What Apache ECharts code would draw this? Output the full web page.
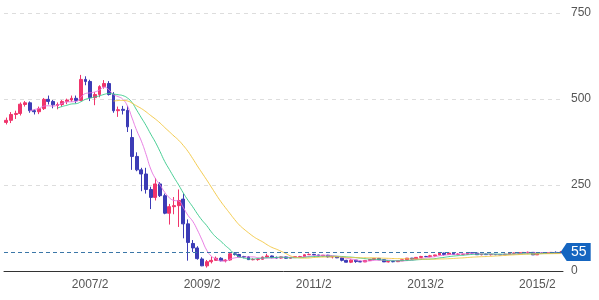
<!DOCTYPE html>
<html><head><meta charset="utf-8">
<script src="https://cdn.jsdelivr.net/npm/echarts@6/dist/echarts.min.js"></script>
<style>html,body{margin:0;padding:0;background:#fff}#c{width:599px;height:300px}</style>
</head><body><div id="c"></div>
<script>
const categories = [
'2005/8','2005/9','2005/10','2005/11','2005/12',
'2006/1','2006/2','2006/3','2006/4','2006/5','2006/6','2006/7','2006/8','2006/9','2006/10','2006/11','2006/12',
'2007/1','2007/2','2007/3','2007/4','2007/5','2007/6','2007/7','2007/8','2007/9','2007/10','2007/11','2007/12',
'2008/1','2008/2','2008/3','2008/4','2008/5','2008/6','2008/7','2008/8','2008/9','2008/10','2008/11','2008/12',
'2009/1','2009/2','2009/3','2009/4','2009/5','2009/6','2009/7','2009/8','2009/9','2009/10','2009/11','2009/12',
'2010/1','2010/2','2010/3','2010/4','2010/5','2010/6','2010/7','2010/8','2010/9','2010/10','2010/11','2010/12',
'2011/1','2011/2','2011/3','2011/4','2011/5','2011/6','2011/7','2011/8','2011/9','2011/10','2011/11','2011/12',
'2012/1','2012/2','2012/3','2012/4','2012/5','2012/6','2012/7','2012/8','2012/9','2012/10','2012/11','2012/12',
'2013/1','2013/2','2013/3','2013/4','2013/5','2013/6','2013/7','2013/8','2013/9','2013/10','2013/11','2013/12',
'2014/1','2014/2','2014/3','2014/4','2014/5','2014/6','2014/7','2014/8','2014/9','2014/10','2014/11','2014/12',
'2015/1','2015/2','2015/3','2015/4','2015/5','2015/6','2015/7'
];
const opens = [
432,438,455,458,484,
489,466,463,472,499,493,481,484,493,497,502,496,
557,551,504,513,536,545,513,466,470,467,388,333,
294,282,237,214,253,219,168,187,190,209,137,80,
67,35,15,27,31,37,30,32,50,48,42,41,
33,33.2,34,40.5,43.7,39.6,37.6,41,37.1,39,41.7,42,
47.3,48.2,46.8,44.2,45.9,41.2,41.6,38.3,31,25.6,31.6,27.5,
26.3,30.7,33.3,36.5,33,26.5,27.4,27.1,29.7,32.7,37.4,34.6,
39.6,42.2,42,44.2,46.7,52,48,52.1,48.3,48.5,48.8,52.9,
52.1,47.4,48.6,47.6,47.9,47.6,47.1,48.9,51.7,51.8,53.5,54,
54.1,46.9,52.4,51.5,53.3,54.1,53
];
const closes = [
438,455,458,485,489,
466,463,472,499,493,483,484,493,497,502,496,557,
551,504,513,536,545,513,466,469,467,419,333,294,
282,237,214,253,219,168,187,190,205,137,83,67,
36,15,27,31,37,30,32,50,48,41,41,33,
33.2,34,40.5,43.7,39.6,37.6,41,37.1,39,41.7,42,47.3,
48.2,46.8,44.2,45.9,41.2,41.6,38.3,31,25.6,31.6,27.5,26.3,
30.7,33.3,36.5,33,26.5,27.4,27.1,29.7,32.7,37.4,34.6,39.6,
42.2,42,44.2,46.7,52,48,52.1,48.3,48.5,48.8,52.9,52.1,
47.4,48.6,47.6,47.9,47.6,47.1,48.9,51.7,51.8,53.5,54,54.1,
46.9,52.4,51.5,53.3,54.1,53,55
];
const lows = [
426,430,442,452,478,
460,455,456,468,484,473,470,478,485,492,488,494,
540,494,482,505,530,510,460,448,455,404,294,290,
232,225,180,205,215,165,135,165,128,95,30,55,
33,14,10,22,30,28,25,30,45,40,37,32,
31,30,33,40,37,36,36,36,36.5,38,40,42,
47,46,42,43,39,36.5,37.5,28,25,23,23.8,25.5,
26,29,33,32,26,24.8,25.3,26,29,32,33.5,34,
39.5,40,41,41.5,46,45,47.5,48,47,46.6,48,50.5,
47,45.5,47,45,46,46.5,46.6,48.5,51,48.5,52.5,50.5,
46.6,46.5,51,49.5,52.5,52,52.5
];
const highs = [
446,462,466,490,494,
493,470,478,503,510,497,490,497,501,510,510,570,
566,556,520,540,555,552,520,478,480,480,412,345,
300,300,245,270,258,225,195,215,237,225,150,90,
72,40,32,42,42,40,34,52,55,50,44,43,
37,36,42,50,45,42,42,42,41,43,44,48,
51,50,47,46.5,47,42,42,39,32.5,34,32,30,
31.5,34,38,38,34,28,29,30.5,34,38,38,40,
44,44,47,47,53,53.5,53.5,53,52,50,53.5,53.5,
55,49.5,51,49,49,49.5,50.5,52,53.5,54,55,56.5,
54.5,53,53.5,54,54.5,57,58
];
const xLabels = ['2007/2','2009/2','2011/2','2013/2','2015/2'];
const yTicks = [0, 250, 500, 750];
const maPeriods = [6, 12, 24];
const maColors = ['#e672e0', '#35c98a', '#f2c53d'];
const markValue = 55;

const upColor = '#f0356c';
const downColor = '#3c3cb6';
const tagColor = '#1565c0';

const kData = categories.map((c, i) => [opens[i], closes[i], lows[i], highs[i]]);

function movingAverage(n) {
  const out = [];
  for (let i = 0; i < closes.length; i++) {
    if (i < n - 1) { out.push('-'); continue; }
    let s = 0;
    for (let j = 0; j < n; j++) s += closes[i - j];
    out.push(+(s / n).toFixed(2));
  }
  return out;
}

const font = 'Arial, Liberation Sans, sans-serif';
const chart = echarts.init(document.getElementById('c'), null, {renderer: 'canvas'});
chart.setOption({
  animation: false,
  grid: {left: 4, right: 36, top: 13, bottom: 29},
  xAxis: {
    type: 'category', data: categories, boundaryGap: true,
    axisLine: {lineStyle: {color: '#333', width: 1}},
    axisTick: {show: false},
    axisLabel: {interval: (i, v) => xLabels.includes(v), color: '#555', fontSize: 12, margin: 8, fontFamily: font},
    splitLine: {show: false}
  },
  yAxis: {
    type: 'value', position: 'right', min: yTicks[0], max: yTicks[yTicks.length - 1], interval: 250,
    axisLine: {show: false}, axisTick: {show: false},
    axisLabel: {color: '#555', fontSize: 12, margin: 8, fontFamily: font},
    splitLine: {lineStyle: {type: [4, 4], color: '#ddd'}}
  },
  series: [
    {
      type: 'candlestick', data: kData, barWidth: '72%',
      itemStyle: {color: upColor, color0: downColor, borderColor: upColor, borderColor0: downColor, borderWidth: 1},
      markLine: {
        silent: true, animation: false, symbol: ['none', 'none'],
        lineStyle: {type: [4, 3], color: '#3b77a8', width: 1},
        label: {show: false},
        data: [{yAxis: markValue}]
      },
      markPoint: {
        silent: true, animation: false,
        symbol: 'path://M0,9L6,0L30,0L30,18L6,18Z',
        symbolSize: [30, 18], symbolKeepAspect: false,
        symbolOffset: [15, 0],
        itemStyle: {color: tagColor},
        label: {show: true, position: 'inside', offset: [3, 0], formatter: String(markValue), color: '#fff', fontSize: 14, fontFamily: font},
        data: [{coord: [categories[categories.length - 1], markValue], value: markValue}]
      }
    },
    ...maPeriods.map((p, k) => ({
      type: 'line', name: 'MA' + p, data: movingAverage(p), smooth: true, showSymbol: false,
      lineStyle: {width: 1, color: maColors[k], opacity: 0.9}, itemStyle: {color: maColors[k]}
    }))
  ]
});
</script></body></html>
